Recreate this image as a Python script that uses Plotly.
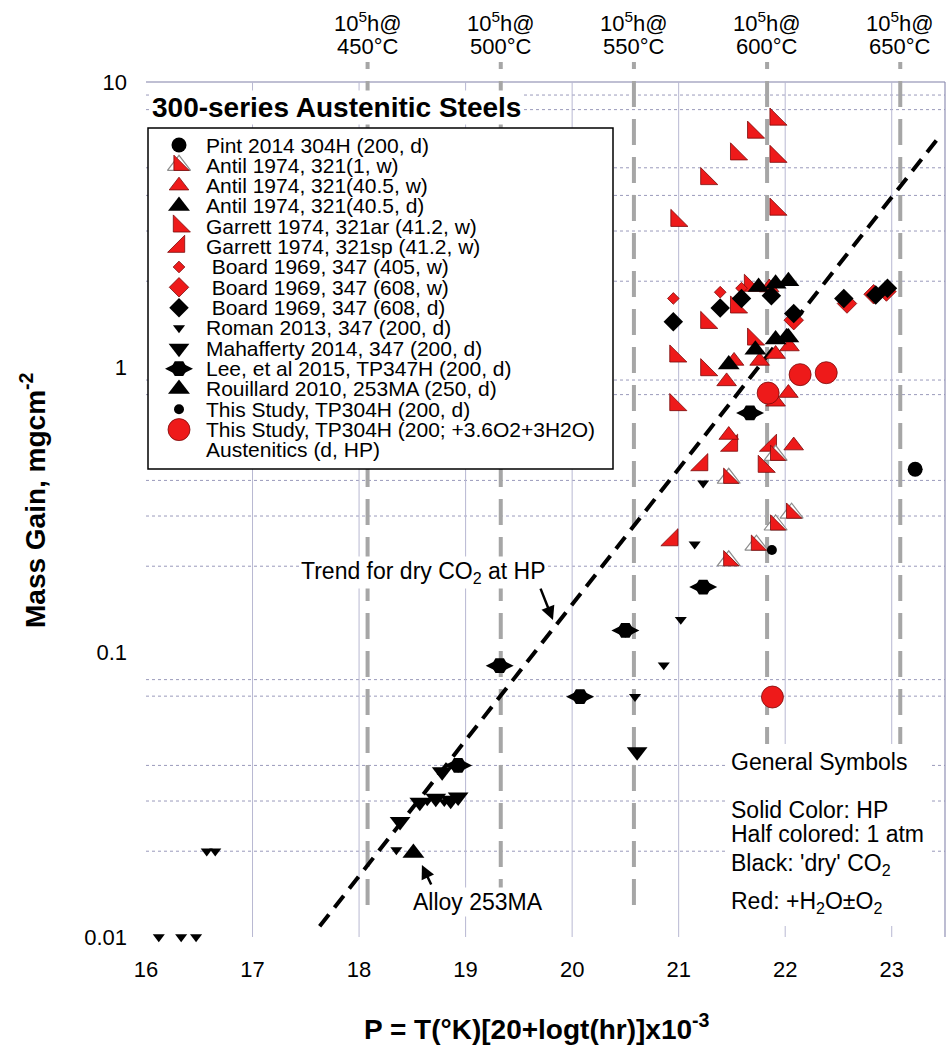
import plotly.graph_objects as go
import math

# ---------------- data ----------------
garrett_ar_x = [21.91, 21.70, 21.91, 21.54, 21.26, 21.91, 20.98, 21.26, 20.97, 21.26, 21.70, 21.54, 21.67, 20.97, 21.80]
garrett_ar_y = [7.39, 6.65, 5.47, 5.58, 4.57, 3.57, 3.26, 1.43, 1.09, 0.976, 1.25, 1.62, 1.93, 0.736, 0.447]
garrett_sp_x = [21.22, 20.94, 21.50, 21.865]
garrett_sp_y = [0.453, 0.247, 0.53, 0.53]
antil_1w_x = [21.47, 21.91, 22.06, 21.91, 21.73, 21.47]
antil_1w_y = [0.407, 0.49, 0.307, 0.279, 0.237, 0.209]
antil_40w_x = [21.52, 21.91, 22.04, 21.76, 21.85, 22.03, 21.91, 21.45, 21.47, 22.08]
antil_40w_y = [1.05, 1.11, 1.18, 1.05, 1.90, 0.81, 0.755, 0.89, 0.577, 0.53]
antil_40d_x = [21.47, 21.72, 21.91, 22.03, 21.75, 21.91, 22.03]
antil_40d_y = [1.02, 1.15, 1.25, 1.27, 1.91, 1.96, 2.0]
board_405w_x = [20.95, 21.39, 21.59]
board_405w_y = [1.74, 1.83, 1.89]
board_608w_x = [22.08, 22.58, 22.83, 22.95]
board_608w_y = [1.46, 1.67, 1.80, 1.84]
board_608d_x = [20.95, 21.39, 21.59, 21.87, 22.08, 22.55, 22.85, 22.96]
board_608d_y = [1.44, 1.61, 1.74, 1.78, 1.54, 1.74, 1.79, 1.89]
roman_x = [16.12, 16.33, 16.47, 16.57, 16.65, 18.35, 18.64, 18.80, 20.59, 20.86, 21.02, 21.15, 21.23]
roman_y = [0.01, 0.01, 0.01, 0.02, 0.02, 0.0202, 0.0300, 0.0298, 0.0697, 0.090, 0.130, 0.239, 0.391]
mahafferty_x = [18.385, 18.57, 18.72, 18.86, 18.93, 18.78, 20.61]
mahafferty_y = [0.0254, 0.0297, 0.0307, 0.0302, 0.031, 0.038, 0.0447]
lee_x = [18.93, 19.32, 20.075, 20.50, 21.23, 21.67]
lee_y = [0.040, 0.0895, 0.0697, 0.119, 0.169, 0.69]
rouillard_x = [18.51]
rouillard_y = [0.0197]
pint_x = [23.22]
pint_y = [0.438]
study_dry_x = [21.875]
study_dry_y = [0.228]
study_wet_x = [22.14, 22.385, 21.84, 21.88]
study_wet_y = [0.94, 0.955, 0.81, 0.0695]

trend_x = [17.63, 23.47]
trend_y = [0.0109, 6.6]

# 10^5 h isotherms: temperature label and Larson-Miller parameter
iso_temps = [450, 500, 550, 600, 650]
iso_p = [18.08, 19.33, 20.58, 21.83, 23.08]

x_ticks = [16, 17, 18, 19, 20, 21, 22, 23]
y_ticks = [0.01, 0.1, 1, 10]
y_ticktext = ["0.01", "0.1", "1", "10"]

legend_labels = [
    "Pint 2014 304H (200, d)",
    "Antil 1974, 321(1, w)",
    "Antil 1974, 321(40.5, w)",
    "Antil 1974, 321(40.5, d)",
    "Garrett 1974, 321ar (41.2, w)",
    "Garrett 1974, 321sp (41.2, w)",
    "\u00a0Board 1969, 347 (405, w)",
    "\u00a0Board 1969, 347 (608, w)",
    "\u00a0Board 1969, 347 (608, d)",
    "Roman 2013, 347 (200, d)",
    "Mahafferty 2014, 347 (200, d)",
    "Lee, et al 2015, TP347H (200, d)",
    "Rouillard 2010, 253MA (250, d)",
    "This Study, TP304H (200, d)",
    "This Study, TP304H (200; +3.6O2+3H2O)",
    "Austenitics (d, HP)",
]

# ---------------- styles ----------------
RED = "#ee1a1a"
REDLINE = "#7a0a0a"
NARROW = "Liberation Sans Narrow, Arial Narrow, Liberation Sans, Arial"
SANS = "Liberation Sans, Arial, Helvetica"


def red(sym, size):
    return dict(symbol=sym, size=size, color=RED, line=dict(color=REDLINE, width=0.8))


def blk(sym, size):
    return dict(symbol=sym, size=size, color="black", line=dict(color="black", width=0))


HALF = [dict(symbol="triangle-up", size=20, color="white", line=dict(color="#8c8c8c", width=1.2)),
        red("triangle-sw", 17)]
LEE = [blk("diamond-wide", 20), blk("hexagon2", 17)]

S = {
    "pint": (pint_x, pint_y, [blk("circle", 15)]),
    "antil1w": (antil_1w_x, antil_1w_y, HALF),
    "antil40w": (antil_40w_x, antil_40w_y, [red("triangle-up", 17)]),
    "antil40d": (antil_40d_x, antil_40d_y, [blk("triangle-up", 19)]),
    "gar_ar": (garrett_ar_x, garrett_ar_y, [red("triangle-sw", 19)]),
    "gar_sp": (garrett_sp_x, garrett_sp_y, [red("triangle-se", 19)]),
    "b405w": (board_405w_x, board_405w_y, [red("diamond", 9)]),
    "b608w": (board_608w_x, board_608w_y, [red("diamond", 15)]),
    "b608d": (board_608d_x, board_608d_y, [blk("diamond", 15)]),
    "roman": (roman_x, roman_y, [blk("triangle-down", 10.5)]),
    "maha": (mahafferty_x, mahafferty_y, [blk("triangle-down", 18)]),
    "lee": (lee_x, lee_y, LEE),
    "rouil": (rouillard_x, rouillard_y, [blk("triangle-up", 19)]),
    "sdry": (study_dry_x, study_dry_y, [blk("circle", 10)]),
    "swet": (study_wet_x, study_wet_y, [red("circle", 22)]),
}
legend_keys = ["pint", "antil1w", "antil40w", "antil40d", "gar_ar", "gar_sp", "b405w", "b608w",
               "b608d", "roman", "maha", "lee", "rouil", "sdry", "swet", None]
draw_order = ["gar_ar", "gar_sp", "antil1w", "antil40w", "b405w", "b608w", "b608d", "antil40d",
              "roman", "maha", "lee", "rouil", "pint", "sdry", "swet"]

# plot-area geometry (pixels)
L, R, T, B = 146, 945, 82, 937
W, H = 948, 1054


def P(px):
    return (px - L) / (R - L)


def Q(py):
    return (B - py) / (B - T)


fig = go.Figure()

# trend line
fig.add_trace(go.Scatter(x=trend_x, y=trend_y, mode="lines",
                         line=dict(color="black", width=4, dash="15px,9px"),
                         hoverinfo="skip", cliponaxis=False))

for k in draw_order:
    xs, ys, mk = S[k]
    for m in mk:
        fig.add_trace(go.Scatter(x=xs, y=ys, mode="markers", marker=m,
                                 cliponaxis=False, hoverinfo="skip"))

# legend glyphs on a pixel-space overlay axis
LEG_X, LEG_Y0, LEG_DY = 179, 145, 20.33
for i, k in enumerate(legend_keys):
    if k is None:
        continue
    for m in S[k][2]:
        fig.add_trace(go.Scatter(x=[LEG_X], y=[LEG_Y0 + i * LEG_DY], mode="markers", marker=m,
                                 xaxis="x2", yaxis="y2", cliponaxis=False, hoverinfo="skip"))

shapes = []
# horizontal grid
grid_y = [2, 3, 4, 5, 8, 9, 0.2, 0.3, 0.4, 0.8, 0.9, 0.02, 0.03, 0.04, 0.07, 0.08]
for v in grid_y:
    shapes.append(dict(type="line", xref="paper", yref="y", x0=0, x1=1, y0=v, y1=v,
                       line=dict(color="#9a9abb", width=1, dash="dot"), layer="below"))
shapes.append(dict(type="line", xref="paper", yref="paper", x0=0, x1=1, y0=1, y1=1,
                   line=dict(color="#8080a8", width=1.2), layer="below"))
# vertical grid
for v in x_ticks[1:]:
    shapes.append(dict(type="line", xref="x", yref="paper", x0=v, x1=v, y0=0, y1=1,
                       line=dict(color="#b8b8d2", width=1), layer="below"))
shapes.append(dict(type="line", xref="paper", yref="paper", x0=1, x1=1, y0=0, y1=1,
                   line=dict(color="#9090b4", width=1.2), layer="below"))
# isotherm dashed lines
for p in iso_p:
    shapes.append(dict(type="line", xref="x", yref="paper", x0=p, x1=p, y0=Q(905), y1=Q(62),
                       line=dict(color="#a6a6a6", width=4, dash="26px,12px"), layer="below"))
# legend box
shapes.append(dict(type="rect", xref="paper", yref="paper", x0=P(148), x1=P(613), y0=Q(469), y1=Q(128),
                   fillcolor="white", line=dict(color="black", width=1.5), layer="below"))
# general symbols white box
shapes.append(dict(type="rect", xref="paper", yref="paper", x0=P(726), x1=P(932), y0=Q(926), y1=Q(744),
                   fillcolor="white", line=dict(width=0), layer="below"))

ann = []
# title
ann.append(dict(xref="paper", yref="paper", x=P(150), y=Q(107), xanchor="left", yanchor="middle",
                text="<b>300-series Austenitic Steels</b>", showarrow=False, bgcolor="white",
                font=dict(family=SANS, size=28, color="black")))
# legend text
for i, lab in enumerate(legend_labels):
    ann.append(dict(xref="paper", yref="paper", x=P(204), y=Q(LEG_Y0 + i * LEG_DY), xanchor="left",
                    yanchor="middle", text=lab, showarrow=False,
                    font=dict(family=SANS, size=21, color="black")))
# isotherm labels
for t, p in zip(iso_temps, iso_p):
    ann.append(dict(xref="x", yref="paper", x=p, y=Q(22), text="10<sup>5</sup>h@", showarrow=False,
                    xanchor="center", yanchor="middle", font=dict(family=NARROW, size=22, color="black")))
    ann.append(dict(xref="x", yref="paper", x=p, y=Q(47), text=f"{t}°C", showarrow=False,
                    xanchor="center", yanchor="middle", font=dict(family=NARROW, size=22, color="black")))
# trend annotation
ann.append(dict(xref="paper", yref="paper", x=P(423), y=Q(572), text="Trend for dry CO<sub>2</sub> at HP",
                showarrow=False, bgcolor="white", xanchor="center", yanchor="middle",
                font=dict(family=SANS, size=23, color="black")))
ann.append(dict(xref="x", yref="y", x=19.82, y=math.log10(0.1294), ax=-13, ay=-33, text="",
                showarrow=True, arrowhead=2, arrowsize=1.1, arrowwidth=2.5, arrowcolor="black"))
# alloy 253MA
ann.append(dict(xref="paper", yref="paper", x=P(411), y=Q(902), text="Alloy 253MA", showarrow=False,
                bgcolor="white", xanchor="left", yanchor="middle",
                font=dict(family=SANS, size=23, color="black")))
ann.append(dict(xref="x", yref="y", x=18.59, y=math.log10(0.0179), ax=10, ay=21, text="",
                showarrow=True, arrowhead=2, arrowsize=1.1, arrowwidth=2.5, arrowcolor="black"))
# general symbols
gs = [("General Symbols", 762), ("Solid Color: HP", 810), ("Half colored: 1 atm", 834),
      ("Black: 'dry' CO<sub>2</sub>", 864), ("Red: +H<sub>2</sub>O±O<sub>2</sub>", 902)]
for txt, yy in gs:
    ann.append(dict(xref="paper", yref="paper", x=P(729), y=Q(yy), text=txt, showarrow=False,
                    xanchor="left", yanchor="middle", font=dict(family=SANS, size=23, color="black")))
# axis titles
ann.append(dict(xref="paper", yref="paper", x=P(33), y=Q(500), text="<b>Mass Gain, mgcm<sup>-2</sup></b>",
                showarrow=False, textangle=-90, xanchor="center", yanchor="middle",
                font=dict(family=SANS, size=28, color="black")))
ann.append(dict(xref="paper", yref="paper", x=P(537), y=Q(1027),
                text="<b>P = T(°K)[20+logt(hr)]x10<sup>-3</sup></b>",
                showarrow=False, xanchor="center", yanchor="middle",
                font=dict(family=SANS, size=28, color="black")))

fig.update_layout(
    width=W, height=H,
    margin=dict(l=L, r=W - R, t=T, b=H - B),
    plot_bgcolor="white", paper_bgcolor="white",
    showlegend=False,
    shapes=shapes, annotations=ann,
    xaxis=dict(range=[16, 23.5], tickvals=x_ticks, ticks="", showgrid=False, zeroline=False,
               showline=False, ticklabelstandoff=17,
               tickfont=dict(family=NARROW, size=22, color="black")),
    yaxis=dict(type="log", range=[-2, 1], tickvals=y_ticks, ticktext=y_ticktext, ticks="",
               showgrid=False, zeroline=False, showline=False, ticklabelstandoff=18,
               tickfont=dict(family=NARROW, size=22, color="black")),
    xaxis2=dict(range=[L, R], overlaying="x", anchor="y2", visible=False, fixedrange=True),
    yaxis2=dict(range=[B, T], overlaying="y", anchor="x2", visible=False, fixedrange=True),
)

fig.write_html("out.html")
